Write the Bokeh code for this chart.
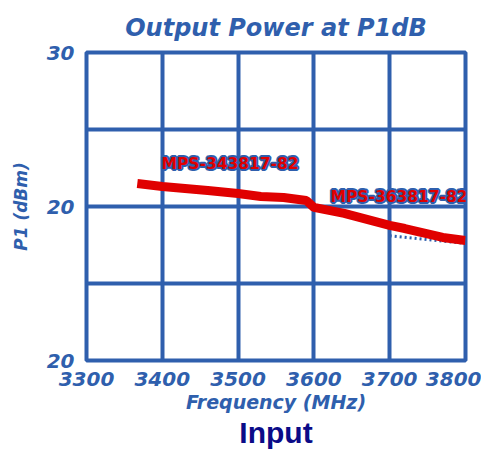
from bokeh.plotting import figure
from bokeh.models import FixedTicker, Label, Title
from bokeh.embed import file_html
from bokeh.resources import INLINE

# ---- data ----
freq_mhz = [3367, 3400, 3460, 3500, 3530, 3560, 3590, 3600, 3640, 3700, 3720, 3770, 3800]
p1_dbm = [21.49, 21.30, 21.04, 20.84, 20.65, 20.58, 20.39, 19.94, 19.55, 18.77, 18.57, 17.99, 17.79]
freq_dotted = [3700, 3750, 3800]
p1_dotted = [18.1, 17.85, 17.6]
x_ticks = [3300, 3400, 3500, 3600, 3700, 3800]
y_ticks = [10, 20, 30]
y_tick_labels = {10: "20", 20: "20", 30: "30"}
y_grid = [15, 20, 25]
part_labels = ["MPS-343817-82", "MPS-363817-82"]

BLUE = "#2f5fad"
RED = "#e00000"
NAVY = "#0b0b88"
FONT = "DejaVu Sans"

p = figure(frame_width=379, frame_height=308,
           x_range=(3300, 3800), y_range=(10, 30),
           min_border_left=86, min_border_right=16,
           min_border_top=52, min_border_bottom=90,
           output_backend="svg", toolbar_location=None)
p.background_fill_color = "white"
p.border_fill_color = "white"
p.outline_line_color = BLUE
p.outline_line_width = 4

# title above
p.title.text = "Output Power at P1dB"
p.title.align = "center"
p.title.text_color = BLUE
p.title.text_font = FONT
p.title.text_font_style = "bold italic"
p.title.text_font_size = "24px"
p.title.standoff = 22

# grids
p.xgrid.ticker = FixedTicker(ticks=x_ticks)
p.ygrid.ticker = FixedTicker(ticks=y_grid)
for g in (p.xgrid, p.ygrid):
    g.grid_line_color = BLUE
    g.grid_line_width = 4
    g.grid_line_alpha = 1

# axes
p.xaxis.ticker = FixedTicker(ticks=x_ticks)
p.yaxis.ticker = FixedTicker(ticks=y_ticks)
p.yaxis.major_label_overrides = y_tick_labels
for ax in (p.xaxis, p.yaxis):
    ax.axis_line_color = None
    ax.major_tick_line_color = None
    ax.minor_tick_line_color = None
    ax.major_label_text_color = BLUE
    ax.major_label_text_font = FONT
    ax.major_label_text_font_style = "bold italic"
    ax.major_label_text_font_size = "20px"
    ax.axis_label_text_color = BLUE
    ax.axis_label_text_font = FONT
    ax.axis_label_text_font_style = "bold italic"
p.xaxis.axis_label = "Frequency (MHz)"
p.xaxis.axis_label_text_font_size = "19px"
p.xaxis.major_label_standoff = 5
p.xaxis.axis_label_standoff = 2
p.yaxis.axis_label = "P1 (dBm)"
p.yaxis.axis_label_text_font_size = "17px"
p.yaxis.major_label_standoff = 6
p.yaxis.axis_label_standoff = 13

# caption below the x-axis title
p.add_layout(Title(text="Input", align="center", text_color=NAVY,
                   text_font="Liberation Sans", text_font_style="bold",
                   text_font_size="30px", standoff=-4), "below")

# series
p.line(freq_dotted, p1_dotted, line_color=BLUE, line_width=3, line_dash="2 3")
p.line(freq_mhz, p1_dbm, line_color=RED, line_width=9)

# part-number labels (canvas units, red with a thin blue rim)
label_pos = [(161, 163), (330, 196)]
for txt, (cx, cy) in zip(part_labels, label_pos):
    common = dict(x=cx, y=cy, x_units="canvas", y_units="canvas", text=txt,
                  text_font=FONT, text_font_style="bold", text_font_size="15.5px",
                  text_baseline="middle", text_align="left")
    p.add_layout(Label(text_color=RED, text_outline_color=BLUE, **common))
    p.add_layout(Label(text_color=RED, **common))

open("out.html", "w").write(file_html(p, INLINE))
